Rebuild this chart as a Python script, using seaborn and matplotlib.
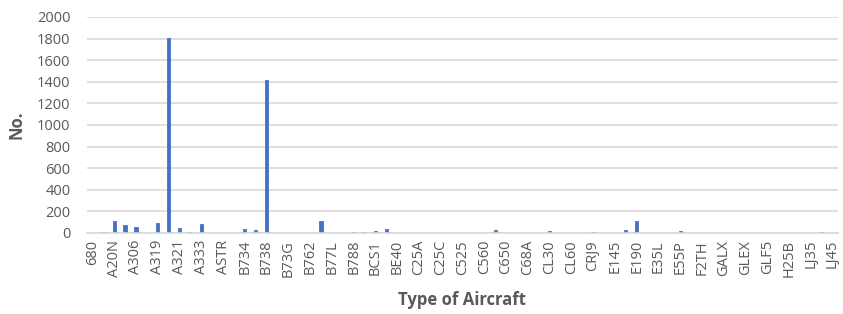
import pandas as pd
import matplotlib.pyplot as plt
import seaborn as sns

# aircraft types (only every other one is labelled on the axis)
aircraft = ['680', 'A139', 'A20N', 'A21N', 'A306', 'A318', 'A319', 'A320', 'A321', 'A332',
            'A333', 'A359', 'ASTR', 'B733', 'B734', 'B737', 'B738', 'B739', 'B73G', 'B752',
            'B762', 'B763', 'B77L', 'B77W', 'B788', 'B789', 'BCS1', 'BCS3', 'BE40', 'C208',
            'C25A', 'C25B', 'C25C', 'C510', 'C525', 'C550', 'C560', 'C56X', 'C650', 'C680',
            'C68A', 'C750', 'CL30', 'CL35', 'CL60', 'CRJ2', 'CRJ9', 'DH8D', 'E145', 'E170',
            'E190', 'E195', 'E35L', 'E550', 'E55P', 'EA50', 'F2TH', 'F900', 'GALX', 'GL5T',
            'GLEX', 'GLF4', 'GLF5', 'GLF6', 'H25B', 'LJ31', 'LJ35', 'LJ40', 'LJ45']
counts = [0, 10, 115, 70, 55, 0, 95, 1805, 50, 10,
          85, 0, 0, 0, 35, 30, 1420, 0, 0, 0,
          0, 115, 0, 0, 8, 8, 20, 40, 0, 0,
          0, 0, 0, 0, 0, 0, 0, 30, 0, 0,
          0, 0, 15, 0, 0, 0, 8, 0, 0, 30,
          110, 0, 0, 0, 15, 0, 0, 0, 0, 0,
          0, 0, 0, 0, 0, 0, 0, 8, 0]

df = pd.DataFrame({'Type': aircraft, 'No.': counts})

sns.set_style('white')
plt.rcParams['font.family'] = ['Open Sans', 'DejaVu Sans']
grey = '#595959'

fig = plt.figure(figsize=(8.43, 3.14), dpi=100)
ax = fig.add_axes([87 / 843, 1 - 233 / 314, 751 / 843, 216 / 314])
sns.barplot(data=df, x='Type', y='No.', color='#4472C4', width=0.3, saturation=1,
            edgecolor='#4472C4', linewidth=0.6, ax=ax)

ax.set_ylim(0, 2000)
ax.set_yticks(range(0, 2001, 200))
ax.set_xlim(-0.5, len(aircraft) - 0.5)
ax.set_xticks(range(0, len(aircraft), 2))
ax.set_xticklabels(aircraft[::2], rotation=90)
ax.tick_params(axis='both', length=0, labelsize=10.5, colors=grey)
ax.tick_params(axis='y', pad=12)
ax.tick_params(axis='x', pad=5)
ax.yaxis.grid(True, color='#D9D9D9', linewidth=1.2)
ax.set_axisbelow(True)
for s in ['top', 'right', 'left']:
    ax.spines[s].set_visible(False)
ax.spines['bottom'].set_color('#D9D9D9')
ax.spines['bottom'].set_linewidth(1.2)
ax.set_xlabel('Type of Aircraft', fontsize=12, fontweight='bold', color=grey, labelpad=10)
ax.set_ylabel('No.', fontsize=12, fontweight='bold', color=grey, labelpad=8)

fig.savefig('out.png', dpi=100)
